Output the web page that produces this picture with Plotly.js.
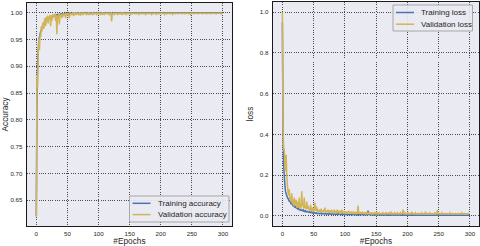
<!DOCTYPE html>
<html><head><meta charset="utf-8">
<script src="https://cdn.plot.ly/plotly-3.0.1.min.js"></script>
<style>html,body{margin:0;padding:0;background:#fff}#c{width:480px;height:246px}</style>
</head><body><div id="c"></div>
<script>
const trainAcc=[.62,.83,.90,.93,.945,.955,.96,.965,.967,.972,.975,.978,.976,.982,.984,.983,.986,.988,.985,.989,
.99,.991,.989,.992,.993,.992,.994,.993,.995,.994,.995,.996,.994,.996,.995,.997,.996,.997,.996,.998,
.997,.998,.997,.998,.998,.997,.998,.999,.998,.998,.999,.998,.997,.999,.998,.999,.999,.998,.999,.999,
.999,.998,.999,.999,.998,.999,1,.999,.999,.998,.999,.999,1,.999,.999,.998,.999,1,.999,.999,
.999,1,.999,.999,.998,.999,1,1,.999,.999,.998,.999,1,.999,1,.999,.999,1,.999,1,
.999,.999,1,.999,1,.999,.998,.999,1,1,.999,1,.999,.999,1,.999,1,1,.999,.999,
.999,.997,.999,1,.999,1,1,.999,1,.999,1,1,.999,1,1,.999,1,.999,.998,.999,
1,.999,1,1,.999,1,1,1,.999,1,1,.999,1,1,1,.999,1,1,.999,1,
1,1,.999,1,1,1,.999,1,1,1,1,.999,1,1,.999,1,1,1,1,.999,
1,1,1,.999,1,1,.999,1,1,1,1,1,.999,1,1,1,.999,1,1,1,
1,.999,1,1,1,1,1,.999,1,1,1,1,1,.999,1,1,1,1,1,.999,
1,1,1,1,.999,1,1,1,1,1,.999,1,1,1,1,1,1,.999,1,1,
1,1,1,1,1,.999,1,1,1,1,1,1,1,.999,1,1,1,1,1,1,
.999,1,1,1,1,1,1,1,.999,1,1,1,1,1,1,1,1,.999,1,1,
1,1,1,1,1,1,.999,1,1,1,1,1,1,1,1,1,1,1,.999,1];
const valAcc=[.62,.88,.86,.925,.95,.93,.96,.955,.975,.965,.978,.982,.97,.985,.99,.975,.992,.985,.995,.98,
.993,.99,.996,.975,.995,.985,.997,.99,.996,.993,.998,.985,.996,.96,.995,.99,.997,.978,.998,.994,
.997,.99,.998,.993,.999,.996,.998,.99,.999,.997,.998,.995,.999,.99,.998,.997,.999,.996,.998,.999,
.994,.999,.998,.999,.996,.999,.998,.999,.997,.999,.999,.995,.999,.998,.999,.996,.999,.999,.998,.999,
.999,.997,.999,.998,.999,.999,.996,.999,.999,.998,.999,.997,.999,.999,.998,.999,.999,.997,.999,.999,
.998,.999,.999,.997,.999,.999,.998,.999,.999,.997,.999,.999,.998,.999,.999,.998,.999,.997,.999,.999,
.998,.984,.999,.998,.999,.997,.999,.999,.998,.999,.999,.997,.999,.998,.999,.999,.998,.999,.996,.999,
.999,.998,.999,.999,.997,.999,.999,.998,.999,.999,.999,.997,.999,.999,.998,.999,.999,.999,.998,.999,
.999,.998,.999,.999,.999,.997,.999,.999,.999,.998,.999,.999,.999,.998,.999,.999,.997,.999,.999,.999,
.998,.999,.999,.999,.999,.997,.999,.999,.998,.999,.999,.999,.999,.996,.999,.999,.999,.998,.999,.999,
.999,.998,.999,.999,.999,.999,.997,.999,.999,.999,.998,.999,.999,.999,.999,.998,.999,.999,.999,.997,
.999,.999,.999,.998,.999,.999,.999,.999,.998,.999,.999,.999,.999,.999,.998,.999,.999,.999,.999,.998,
.999,.999,.999,.999,.999,.998,.999,.999,.997,.999,.999,.999,.999,.999,.998,.999,.999,.999,.999,.999,
.998,.999,.999,.999,.999,.999,.999,.998,.999,.999,.999,.999,.999,.999,.998,.999,.999,.999,.999,.999,
.999,.998,.999,.999,.999,.999,.999,.999,.999,.998,.999,.999,.999,.999,.999,.999,.999,.998,.999,.999];
const trainLoss=[.95,.45,.25,.2,.15,.12,.11,.1,.09,.085,.08,.07,.075,.065,.06,.062,.055,.05,.052,.045,
.042,.045,.04,.038,.035,.04,.033,.03,.032,.028,.027,.03,.025,.024,.028,.022,.021,.024,.02,.019,
.022,.02,.018,.017,.02,.016,.015,.018,.014,.015,.013,.016,.014,.012,.015,.012,.011,.013,.012,.01,
.012,.011,.01,.013,.01,.009,.011,.01,.009,.012,.009,.008,.01,.009,.008,.011,.009,.008,.009,.008,
.01,.008,.007,.009,.008,.007,.009,.008,.007,.01,.007,.008,.007,.006,.008,.007,.009,.006,.007,.006,
.008,.006,.007,.006,.007,.008,.006,.005,.007,.006,.006,.008,.005,.006,.007,.005,.006,.005,.007,.006,
.005,.009,.006,.005,.006,.005,.007,.005,.005,.006,.005,.006,.005,.004,.006,.005,.005,.026,.008,.005,
.005,.004,.006,.005,.004,.005,.004,.006,.004,.005,.004,.004,.005,.004,.006,.004,.004,.005,.004,.004,
.005,.004,.004,.003,.005,.004,.004,.005,.003,.004,.004,.005,.003,.004,.004,.003,.005,.004,.003,.004,
.004,.003,.005,.004,.003,.004,.003,.004,.005,.003,.004,.003,.004,.007,.003,.004,.003,.004,.003,.003,
.004,.003,.004,.003,.003,.004,.003,.005,.003,.003,.004,.003,.003,.004,.003,.003,.003,.004,.003,.003,
.003,.004,.003,.003,.003,.004,.003,.003,.004,.003,.003,.003,.004,.003,.003,.003,.003,.004,.003,.003,
.003,.003,.004,.003,.003,.003,.003,.004,.006,.003,.003,.003,.004,.003,.003,.003,.003,.003,.004,.003,
.003,.003,.003,.004,.003,.003,.003,.003,.003,.004,.003,.003,.003,.003,.003,.003,.004,.003,.003,.003,
.003,.003,.003,.004,.003,.003,.003,.003,.003,.003,.004,.003,.003,.003,.003,.003,.003,.004,.003,.003];
const valLoss=[1.0,.45,.32,.33,.25,.22,.3,.2,.15,.12,.1,.13,.08,.09,.07,.11,.06,.08,.05,.09,
.06,.05,.08,.04,.07,.05,.04,.09,.035,.06,.04,.12,.05,.06,.035,.09,.04,.045,.03,.07,
.035,.05,.03,.04,.025,.055,.03,.025,.04,.02,.035,.025,.065,.03,.025,.045,.02,.03,.02,.03,
.025,.02,.035,.02,.025,.018,.03,.02,.04,.02,.025,.018,.022,.03,.018,.02,.025,.015,.03,.02,
.018,.025,.015,.03,.02,.018,.022,.015,.03,.018,.02,.015,.025,.015,.018,.03,.015,.02,.015,.018,
.02,.015,.018,.012,.02,.015,.025,.012,.015,.018,.012,.02,.015,.012,.018,.015,.012,.02,.012,.015,
.012,.05,.015,.012,.018,.012,.015,.01,.02,.012,.01,.015,.012,.01,.018,.012,.01,.015,.012,.01,
.015,.01,.012,.01,.018,.01,.012,.01,.015,.01,.01,.02,.01,.012,.01,.015,.01,.01,.012,.01,
.01,.015,.01,.01,.012,.01,.018,.01,.01,.012,.01,.015,.01,.01,.02,.01,.012,.01,.01,.015,
.01,.012,.01,.01,.015,.01,.01,.012,.01,.015,.01,.01,.012,.03,.01,.01,.015,.01,.012,.01,
.01,.015,.01,.01,.012,.01,.01,.02,.01,.01,.012,.01,.01,.015,.01,.01,.01,.012,.01,.01,
.012,.01,.01,.015,.01,.01,.01,.012,.01,.02,.01,.01,.01,.012,.01,.01,.015,.01,.01,.01,
.012,.01,.01,.01,.015,.01,.01,.01,.028,.01,.01,.012,.01,.01,.01,.015,.01,.01,.01,.012,
.01,.01,.01,.012,.01,.01,.01,.01,.015,.01,.01,.01,.012,.01,.01,.01,.01,.012,.01,.01,
.01,.01,.012,.01,.01,.01,.01,.015,.01,.01,.01,.01,.012,.01,.01,.01,.01,.01,.012,.01];
const xTicks=[0,50,100,150,200,250,300];
const accTicks=[0.65,0.70,0.75,0.80,0.85,0.90,0.95,1.00];
const lossTicks=[0.0,0.2,0.4,0.6,0.8,1.0];
const accNames=['Training accuracy','Validation accuracy'];
const lossNames=['Training loss','Validation loss'];

const epochs=trainAcc.map((_,i)=>i);
const BLUE='#4C72B0', GOLD='#D2B455';
const F='Liberation Sans, Arial, sans-serif';
const TXT='#262626';
const traces=[
 {x:epochs,y:trainAcc,type:'scatter',mode:'lines',name:accNames[0],line:{color:BLUE,width:1.5,simplify:false},xaxis:'x',yaxis:'y'},
 {x:epochs,y:valAcc,type:'scatter',mode:'lines',name:accNames[1],line:{color:GOLD,width:1.5,simplify:false},xaxis:'x',yaxis:'y'},
 {x:epochs,y:trainLoss,type:'scatter',mode:'lines',name:lossNames[0],line:{color:BLUE,width:1.5,simplify:false},xaxis:'x2',yaxis:'y2'},
 {x:epochs,y:valLoss,type:'scatter',mode:'lines',name:lossNames[1],line:{color:GOLD,width:1.5,simplify:false},xaxis:'x2',yaxis:'y2'}
];
const ax={showline:true,mirror:true,linecolor:'#1a1a1a',linewidth:1.3,showgrid:true,gridcolor:'rgba(0,0,0,0.75)',griddash:'1px,1.3px',gridwidth:0.9,zeroline:false,ticks:'',tickfont:{family:F,size:6.2,color:TXT},automargin:false};
const tf={family:F,size:8.3,color:TXT};
// legend built from paper-coordinate shapes + annotations
function legendBox(x0,y0,x1,y1,rows,names){
  const shapes=[{type:'rect',xref:'paper',yref:'paper',x0:x0/480,x1:x1/480,y0:1-y1/246,y1:1-y0/246,fillcolor:'rgba(234,234,242,0.9)',line:{color:'#a8a8a8',width:1},layer:'above'}];
  const anns=[];
  const cols=[BLUE,GOLD];
  rows.forEach((r,i)=>{
    shapes.push({type:'line',xref:'paper',yref:'paper',x0:(x0+3)/480,x1:(x0+21)/480,y0:1-r/246,y1:1-r/246,line:{color:cols[i],width:1.5},layer:'above'});
    anns.push({xref:'paper',yref:'paper',x:(x0+26)/480,y:1-r/246,xanchor:'left',yanchor:'middle',text:names[i],showarrow:false,font:{family:F,size:8,color:TXT}});
  });
  return {shapes,anns};
}
const L1=legendBox(129.5,196,229,222,[203.3,214.6],accNames);
const L2=legendBox(393,5,472.5,31,[12.5,24.2],lossNames);
const layout={
 width:480,height:246,margin:{l:0,r:0,t:0,b:0},paper_bgcolor:'#fff',plot_bgcolor:'#EAEAF2',
 showlegend:false,
 xaxis:Object.assign({},ax,{domain:[27/480,232/480],range:[-15,314.5],tickvals:xTicks,anchor:'y',ticklabelstandoff:1,title:{text:'#Epochs',font:tf,standoff:3}}),
 yaxis:Object.assign({},ax,{domain:[1-226/246,1-3/246],range:[0.6017,1.0183],tickvals:accTicks,tickformat:'.2f',anchor:'x',ticklabelstandoff:2,title:{text:'Accuracy',font:tf,standoff:5}}),
 xaxis2:Object.assign({},ax,{domain:[273/480,479/480],range:[-15,314.5],tickvals:xTicks,anchor:'y2',ticklabelstandoff:1,title:{text:'#Epochs',font:tf,standoff:3}}),
 yaxis2:Object.assign({},ax,{domain:[1-226/246,1-2/246],range:[-0.05,1.05],tickvals:lossTicks,tickformat:'.1f',anchor:'x2',ticklabelstandoff:2,title:{text:'loss',font:tf,standoff:5}}),
 shapes:L1.shapes.concat(L2.shapes),
 annotations:L1.anns.concat(L2.anns)
};
Plotly.newPlot('c',traces,layout,{staticPlot:true,displayModeBar:false});
</script></body></html>
